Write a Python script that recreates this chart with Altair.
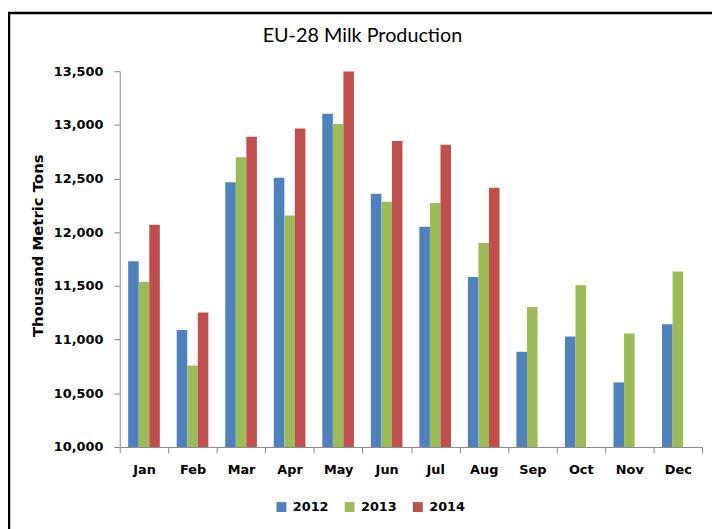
import altair as alt
import pandas as pd

months = ["Jan", "Feb", "Mar", "Apr", "May", "Jun", "Jul", "Aug", "Sep", "Oct", "Nov", "Dec"]
years = ["2012", "2013", "2014"]
v2012 = [11730, 11089, 12466, 12509, 13104, 12359, 12052, 11583, 10887, 11028, 10601, 11144]
v2013 = [11537, 10758, 12699, 12156, 13009, 12285, 12273, 11899, 11304, 11506, 11058, 11635]
v2014 = [12071, 11252, 12890, 12966, 13497, 12850, 12816, 12414, None, None, None, None]
colors = ["#4F81BD", "#9BBB59", "#C0504D"]
y_ticks = [10000, 10500, 11000, 11500, 12000, 12500, 13000, 13500]

rows = []
for yr, vals in zip(years, [v2012, v2013, v2014]):
    for m, v in zip(months, vals):
        if v is not None:
            rows.append({"Month": m, "Year": yr, "Value": v})
df = pd.DataFrame(rows)

FONT = "DejaVu Sans"
GRAY = "#868686"

bars = alt.Chart(df).mark_bar().encode(
    x=alt.X("Month:N", sort=months,
            scale=alt.Scale(paddingInner=0, paddingOuter=0),
            axis=alt.Axis(title=None, labelAngle=0, tickBand="extent",
                          labelFont=FONT, labelFontWeight="bold", labelFontSize=13,
                          labelColor="black", labelPadding=11, tickSize=6,
                          tickColor=GRAY, domainColor=GRAY, grid=False)),
    xOffset=alt.XOffset("Year:N", scale=alt.Scale(domain=years, paddingInner=0, paddingOuter=0.8)),
    y=alt.Y("Value:Q",
            scale=alt.Scale(domain=[10000, 13500], zero=False, nice=False),
            axis=alt.Axis(title="Thousand Metric Tons", values=y_ticks, format=",.0f",
                          labelFont=FONT, labelFontWeight="bold", labelFontSize=13,
                          labelColor="black", labelPadding=11, tickSize=6,
                          tickColor=GRAY, domainColor=GRAY, grid=False,
                          titleFont=FONT, titleFontWeight="bold", titleFontSize=15,
                          titleColor="black", titleX=-83, titleY=176, titleAngle=270,
                          titleAlign="center", titleBaseline="middle")),
    y2=alt.datum(10000),
    color=alt.Color("Year:N", scale=alt.Scale(domain=years, range=colors),
                    legend=alt.Legend(title=None, orient="none", legendX=157, legendY=434,
                                      direction="horizontal", symbolType="square",
                                      symbolSize=100, symbolStrokeWidth=0,
                                      labelFont=FONT, labelFontWeight="bold",
                                      labelFontSize=13, labelColor="black",
                                      columnPadding=14, labelOffset=5)),
)

frame_df = pd.DataFrame({"k": [0]})
top_line = alt.Chart(frame_df).mark_rule(color="black", strokeWidth=2.5).encode(
    x=alt.value(-115), x2=alt.value(610), y=alt.value(-59)
)
left_line = alt.Chart(frame_df).mark_rule(color="black", strokeWidth=2.5).encode(
    x=alt.value(-112), y=alt.value(-59), y2=alt.value(470)
)

chart = alt.layer(bars, top_line, left_line).properties(
    width=589, height=380,
    padding={"left": 113, "top": 61, "right": 10, "bottom": 80},
    autosize="none",
    title=alt.TitleParams("EU-28 Milk Production", font="Lato", fontSize=20,
                          fontWeight="normal", color="black", anchor="middle",
                          frame="group", dx=-49, offset=0, dy=35),
).configure_view(stroke="transparent")

chart.save("out.html", embed_options={"renderer": "svg", "actions": False})
